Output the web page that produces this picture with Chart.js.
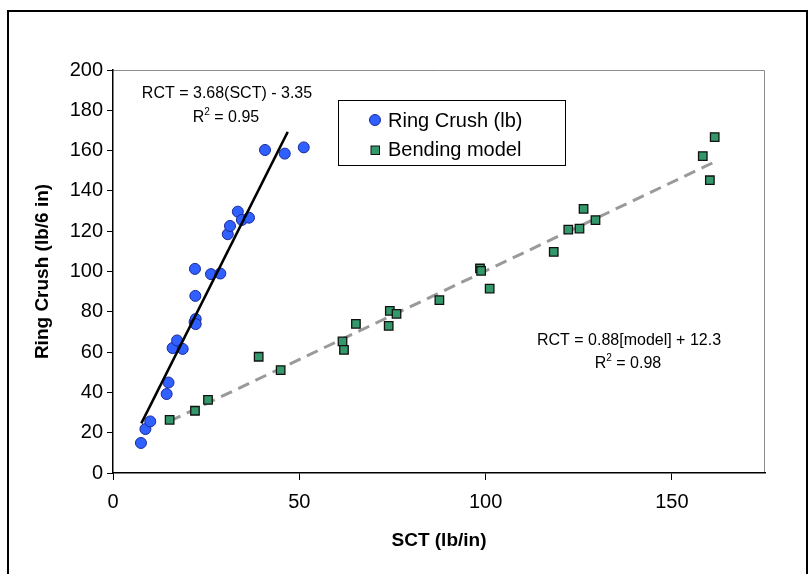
<!DOCTYPE html>
<html>
<head>
<meta charset="utf-8">
<script src="https://cdn.jsdelivr.net/npm/chart.js@4"></script>
<style>
  body { margin: 0; background: #fff; }
  canvas { display: block; }
</style>
</head>
<body>
<canvas id="myChart" width="811" height="574"></canvas>
<script>
const FONT = "'Liberation Sans', Arial, sans-serif";

// Ring crush measurements (SCT lb/in vs RCT lb/6 in)
const ringSct = [7.5, 8.7, 10.0, 14.4, 14.9, 16.0, 17.2, 18.7, 21.9, 22.2, 22.2, 22.1, 22.0, 26.3, 28.8, 30.8, 31.4, 33.5, 34.6, 36.5, 40.8, 46.1, 51.2];
const ringRct = [14.9, 21.8, 25.6, 39.2, 44.9, 62.0, 65.8, 61.6, 74.9, 76.4, 73.9, 87.9, 101.3, 98.7, 99.0, 118.5, 122.6, 129.7, 125.6, 126.7, 160.3, 158.5, 161.6];

// Bending model predictions
const modelSct = [15.2, 22.0, 25.5, 39.1, 45.0, 61.6, 62.0, 65.2, 74.3, 76.1, 74.0, 87.6, 98.5, 98.8, 101.1, 118.3, 122.2, 125.2, 126.3, 129.5, 158.3, 161.5, 160.2];
const modelRct = [26.4, 30.9, 36.3, 57.7, 51.1, 65.3, 61.1, 74.0, 80.5, 79.0, 73.0, 85.8, 101.5, 100.3, 91.5, 109.7, 120.8, 121.3, 131.1, 125.5, 157.3, 166.7, 145.3];

// fitted lines, end points
const ringFitX = [7.6, 46.9];
const ringFitY = [24.6, 169.3];
const modelFitX = [15.2, 161.5];
const modelFitY = [25.7, 154.4];

const xTicks = [0, 50, 100, 150];
const yTicks = [0, 20, 40, 60, 80, 100, 120, 140, 160, 180, 200];

function toPoints(xs, ys) {
  const pts = [];
  for (let i = 0; i < xs.length; i++) {
    pts.push({ x: xs[i], y: ys[i] });
  }
  return pts;
}

// outer frame, plot frame, legend box and the fit equations
const decorations = {
  id: "decorations",
  beforeDraw(chart) {
    const ctx = chart.ctx;
    const a = chart.chartArea;
    ctx.save();
    ctx.strokeStyle = "#000";
    ctx.lineWidth = 2;
    ctx.strokeRect(8, 11, 799, 600);
    ctx.strokeStyle = "#8c8c8c";
    ctx.lineWidth = 1;
    ctx.beginPath();
    ctx.moveTo(a.left, a.top + 0.5);
    ctx.lineTo(a.right - 0.5, a.top + 0.5);
    ctx.lineTo(a.right - 0.5, a.bottom);
    ctx.stroke();
    ctx.restore();
  },
  afterDraw(chart) {
    const ctx = chart.ctx;
    ctx.save();

    // legend
    ctx.fillStyle = "#fff";
    ctx.fillRect(338, 100, 227, 65);
    ctx.strokeStyle = "#000";
    ctx.lineWidth = 1;
    ctx.strokeRect(338.5, 100.5, 227, 65);

    const ring = chart.data.datasets[0];
    const model = chart.data.datasets[1];
    ctx.beginPath();
    ctx.arc(375, 120, 5.5, 0, Math.PI * 2);
    ctx.fillStyle = ring.backgroundColor;
    ctx.fill();
    ctx.strokeStyle = ring.borderColor;
    ctx.lineWidth = 1;
    ctx.stroke();
    ctx.fillStyle = model.backgroundColor;
    ctx.fillRect(371, 146, 8.5, 8.5);
    ctx.strokeStyle = model.borderColor;
    ctx.strokeRect(371, 146, 8.5, 8.5);

    ctx.fillStyle = "#000";
    ctx.font = "20px " + FONT;
    ctx.textAlign = "left";
    ctx.textBaseline = "middle";
    ctx.fillText("Ring Crush (lb)", 388, 121);
    ctx.fillText("Bending model", 388, 150);

    // equations
    ctx.font = "16px " + FONT;
    ctx.textAlign = "center";
    ctx.fillText("RCT = 3.68(SCT) - 3.35", 227, 94);
    ctx.fillText("RCT = 0.88[model] + 12.3", 629, 341);
    drawR2(ctx, "0.95", 226, 118);
    drawR2(ctx, "0.98", 628, 364);

    ctx.restore();
  }
};

function drawR2(ctx, value, cx, cy) {
  ctx.font = "16px " + FONT;
  const r = "R";
  const rest = " = " + value;
  const rW = ctx.measureText(r).width;
  const restW = ctx.measureText(rest).width;
  ctx.font = "10px " + FONT;
  const supW = ctx.measureText("2").width;
  const start = cx - (rW + supW + restW) / 2;
  ctx.textAlign = "left";
  ctx.font = "16px " + FONT;
  ctx.fillText(r, start, cy);
  ctx.fillText(rest, start + rW + supW, cy);
  ctx.font = "10px " + FONT;
  ctx.fillText("2", start + rW, cy - 6);
  ctx.textAlign = "center";
}

const ctx = document.getElementById("myChart");

const data = {
  datasets: [
    {
      label: "Ring Crush (lb)",
      data: toPoints(ringSct, ringRct),
      pointStyle: "circle",
      pointRadius: 5.5,
      pointHoverRadius: 5.5,
      backgroundColor: "#3060ff",
      borderColor: "#1a2a99",
      borderWidth: 1,
      order: 2,
    },
    {
      label: "Bending model",
      data: toPoints(modelSct, modelRct),
      pointStyle: "rect",
      pointRadius: 6,
      pointHoverRadius: 6,
      backgroundColor: "#33996a",
      borderColor: "#111",
      borderWidth: 1.3,
      order: 3,
    },
    {
      label: "ring fit",
      data: toPoints(ringFitX, ringFitY),
      showLine: true,
      pointRadius: 0,
      borderColor: "#000",
      borderWidth: 2.5,
      order: 1,
    },
    {
      label: "model fit",
      data: toPoints(modelFitX, modelFitY),
      showLine: true,
      pointRadius: 0,
      borderColor: "#9a9a9a",
      borderWidth: 3,
      borderDash: [12, 7],
      order: 4,
    },
  ],
};

new Chart(ctx, {
  type: "scatter",
  data: data,
  plugins: [decorations],
  options: {
    responsive: false,
    animation: false,
    events: [],
    layout: { padding: { left: 0, top: 70, right: 46, bottom: 0 } },
    plugins: {
      legend: { display: false },
      tooltip: { enabled: false },
    },
    scales: {
      x: {
        type: "linear",
        min: 0,
        max: 175,
        afterBuildTicks: (scale) => {
          scale.ticks = xTicks.map((v) => ({ value: v }));
        },
        afterFit: (scale) => {
          scale.height = 101;
        },
        grid: {
          drawOnChartArea: false,
          drawTicks: true,
          tickLength: 7,
          color: "#000",
        },
        border: { color: "#000", width: 1.5 },
        ticks: {
          color: "#000",
          padding: 10,
          font: { family: FONT, size: 20 },
        },
        title: {
          display: true,
          text: "SCT (lb/in)",
          color: "#000",
          font: { family: FONT, size: 19, weight: "bold" },
          padding: { top: 0, bottom: 22 },
        },
      },
      y: {
        type: "linear",
        min: 0,
        max: 200,
        afterBuildTicks: (scale) => {
          scale.ticks = yTicks.map((v) => ({ value: v }));
        },
        afterFit: (scale) => {
          scale.width = 113;
        },
        grid: {
          drawOnChartArea: false,
          drawTicks: true,
          tickLength: 6,
          color: "#000",
        },
        border: { color: "#000", width: 1.5 },
        ticks: {
          color: "#000",
          padding: 4,
          font: { family: FONT, size: 20 },
        },
        title: {
          display: true,
          text: "Ring Crush (lb/6 in)",
          color: "#000",
          font: { family: FONT, size: 19, weight: "bold" },
          padding: { top: 31, bottom: 0 },
        },
      },
    },
  },
});
</script>
</body>
</html>
